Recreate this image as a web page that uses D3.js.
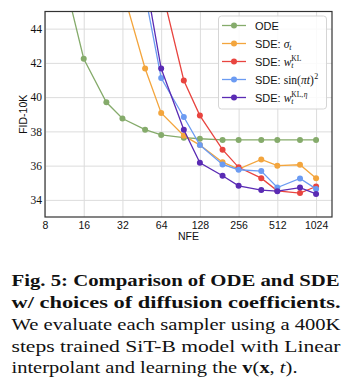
<!DOCTYPE html>
<html>
<head>
<meta charset="utf-8">
<script src="https://cdnjs.cloudflare.com/ajax/libs/d3/7.8.5/d3.min.js"></script>
<style>
  body { margin: 0; background: #fff; }
  svg { display: block; }
</style>
</head>
<body>
<div id="chart"></div>
<script>
// NFE sample points and FID-10K
var nfeODE = [12, 16, 24, 32, 48, 64, 96, 128, 192, 256, 384, 512, 768, 1024];
var fidODE = [46.1, 42.24, 39.7, 38.75, 38.1, 37.79, 37.63, 37.57, 37.5, 37.5, 37.5, 37.5, 37.5, 37.5];

var nfeSigma = [32, 48, 64, 96, 128, 192, 256, 384, 512, 768, 1024];
var fidSigma = [46.3, 41.67, 39.08, 37.75, 37.2, 36.2, 35.8, 36.36, 36.0, 36.05, 35.27];

var nfeKL = [64, 96, 128, 192, 256, 384, 512, 768, 1024];
var fidKL = [46.45, 40.97, 38.92, 36.93, 35.9, 35.27, 34.53, 34.4, 34.78];

var nfeSin = [48, 64, 96, 128, 192, 256, 384, 512, 768, 1024];
var fidSin = [46.0, 41.11, 38.84, 37.2, 36.07, 35.76, 35.68, 34.72, 35.25, 34.64];

var nfeKLeta = [48, 64, 96, 128, 192, 256, 384, 512, 768, 1024];
var fidKLeta = [47.0, 41.67, 38.1, 36.17, 35.41, 34.82, 34.57, 34.51, 34.72, 34.35];

var xTicks = [8, 16, 32, 64, 128, 256, 512, 1024];
var yTicks = [34, 36, 38, 40, 42, 44];

var series = [
  { key: "ode",   x: nfeODE,   y: fidODE,   color: "#85ab6b" },
  { key: "sigma", x: nfeSigma, y: fidSigma, color: "#f3a53d" },
  { key: "kl",    x: nfeKL,    y: fidKL,    color: "#e8443f" },
  { key: "sin",   x: nfeSin,   y: fidSin,   color: "#6b9bf2" },
  { key: "kleta", x: nfeKLeta, y: fidKLeta, color: "#5a2bb4" }
];

var W = 354, H = 389;
var m = { left: 45, top: 11.5, right: 332, bottom: 217 };

var svg = d3.select("#chart").append("svg").attr("width", W).attr("height", H);

var x = d3.scaleLog().base(2).domain([8, 1362]).range([m.left, m.right]);
var y = d3.scaleLinear().domain([33, 45]).range([m.bottom, m.top]);

svg.append("defs").append("clipPath").attr("id", "clip")
  .append("rect").attr("x", m.left).attr("y", m.top)
  .attr("width", m.right - m.left).attr("height", m.bottom - m.top);

// grid
svg.append("g").attr("class", "grid")
  .attr("transform", "translate(0," + m.bottom + ")")
  .call(d3.axisBottom(x).tickValues(xTicks).tickSize(-(m.bottom - m.top)).tickFormat(""))
  .call(function(g) {
    g.select(".domain").remove();
    g.selectAll("line").attr("stroke", "#dcdcdc").attr("stroke-width", 1);
  });
svg.append("g").attr("class", "grid")
  .attr("transform", "translate(" + m.left + ",0)")
  .call(d3.axisLeft(y).tickValues(yTicks).tickSize(-(m.right - m.left)).tickFormat(""))
  .call(function(g) {
    g.select(".domain").remove();
    g.selectAll("line").attr("stroke", "#dcdcdc").attr("stroke-width", 1);
  });

// series
var plot = svg.append("g").attr("clip-path", "url(#clip)");
var line = d3.line().x(function(d) { return x(d[0]); }).y(function(d) { return y(d[1]); });

series.forEach(function(s) {
  var pts = d3.zip(s.x, s.y);
  plot.append("path").datum(pts)
    .attr("d", line)
    .attr("fill", "none")
    .attr("stroke", s.color)
    .attr("stroke-width", 1.3);
  plot.selectAll(".pt-" + s.key).data(pts).enter().append("circle")
    .attr("cx", function(d) { return x(d[0]); })
    .attr("cy", function(d) { return y(d[1]); })
    .attr("r", 3)
    .attr("fill", s.color);
});

// frame
svg.append("rect").attr("x", m.left).attr("y", m.top)
  .attr("width", m.right - m.left).attr("height", m.bottom - m.top)
  .attr("fill", "none").attr("stroke", "#333").attr("stroke-width", 1.2);

// x tick labels (sans)
var xAxis = svg.append("g")
  .attr("transform", "translate(0," + m.bottom + ")")
  .call(d3.axisBottom(x).tickValues(xTicks).tickSize(0).tickPadding(5).tickFormat(d3.format("d")));
xAxis.select(".domain").remove();
xAxis.selectAll("text").attr("font-family", "Liberation Sans, Arial, sans-serif")
  .attr("font-size", 10.5).attr("fill", "#111");

// y tick labels (serif)
var yAxis = svg.append("g")
  .attr("transform", "translate(" + m.left + ",0)")
  .call(d3.axisLeft(y).tickValues(yTicks).tickSize(0).tickPadding(3).tickFormat(d3.format("d")));
yAxis.select(".domain").remove();
yAxis.selectAll("text").attr("font-family", "Liberation Serif, serif")
  .attr("font-size", 11.5).attr("fill", "#111");

svg.append("text").attr("x", (m.left + m.right) / 2).attr("y", 240)
  .attr("text-anchor", "middle")
  .attr("font-family", "Liberation Sans, Arial, sans-serif").attr("font-size", 10.5)
  .attr("fill", "#111").text("NFE");

svg.append("text").attr("transform", "translate(27," + ((m.top + m.bottom) / 2) + ") rotate(-90)")
  .attr("text-anchor", "middle")
  .attr("font-family", "Liberation Sans, Arial, sans-serif").attr("font-size", 10.5)
  .attr("fill", "#111").text("FID-10K");

// legend
var lg = svg.append("g");
lg.append("rect").attr("x", 218.5).attr("y", 16).attr("width", 108).attr("height", 93)
  .attr("rx", 3).attr("fill", "#fff").attr("fill-opacity", 0.85)
  .attr("stroke", "#d5d5d5").attr("stroke-width", 1);

var legY = [25.5, 43.5, 61.5, 79.5, 97.5];
var sans = "Liberation Sans, Arial, sans-serif";
var serif = "Liberation Serif, serif";

function put(txt, xx, yy, fam, size, style) {
  var t = lg.append("text").attr("x", xx).attr("y", yy)
    .attr("font-family", fam).attr("font-size", size).attr("fill", "#111")
    .attr("font-style", style || "normal").text(txt);
  return xx + t.node().getComputedTextLength();
}

series.forEach(function(s, i) {
  var yy = legY[i];
  lg.append("line").attr("x1", 222).attr("x2", 246).attr("y1", yy).attr("y2", yy)
    .attr("stroke", s.color).attr("stroke-width", 1.3);
  lg.append("circle").attr("cx", 234).attr("cy", yy).attr("r", 3).attr("fill", s.color);
  var base = yy + 4;
  var tx = 255;
  if (s.key === "ode") { put("ODE", tx, base, sans, 11); return; }
  tx = put("SDE:", tx, base, sans, 11) + 3;
  if (s.key === "sigma") {
    tx = put("\u03c3", tx, base, serif, 11.5, "italic");
    put("t", tx, base + 2.5, serif, 8, "italic");
  } else if (s.key === "kl" || s.key === "kleta") {
    tx = put("w", tx, base, serif, 11.5, "italic");
    put("t", tx, base + 2.5, serif, 8, "italic");
    var sx = put("KL", tx, base - 5, serif, 7.5);
    if (s.key === "kleta") {
      sx = put(",", sx, base - 5, serif, 7.5);
      put("\u03b7", sx + 0.5, base - 5, serif, 7.5, "italic");
    }
  } else if (s.key === "sin") {
    tx = put("sin(", tx, base, serif, 11.5);
    tx = put("\u03c0t", tx, base, serif, 11.5, "italic");
    tx = put(")", tx, base, serif, 11.5);
    put("2", tx + 0.5, base - 5, serif, 8);
  }
});

// caption
var capLines = [
  { parts: [["Fig. 5: Comparison of ODE and SDE", "bold", "normal"]], y: 286, w: 328 },
  { parts: [["w/ choices of diffusion coefficients.", "bold", "normal"]], y: 308, w: 329 },
  { parts: [["We evaluate each sampler using a 400K", "normal", "normal"]], y: 330, w: 329 },
  { parts: [["steps trained SiT-B model with Linear", "normal", "normal"]], y: 351.5, w: 329 },
  { parts: [["interpolant and learning the ", "normal", "normal"], ["v", "bold", "normal"], ["(", "normal", "normal"],
            ["x", "bold", "normal"], [", ", "normal", "normal"], ["t", "normal", "italic"], [").", "normal", "normal"]], y: 373, w: 286 }
];

capLines.forEach(function(l) {
  var t = svg.append("text").attr("x", 11.5).attr("y", l.y)
    .attr("font-family", serif).attr("font-size", 16).attr("fill", "#111");
  l.parts.forEach(function(p) {
    t.append("tspan").attr("font-weight", p[1]).attr("font-style", p[2]).text(p[0]);
  });
  t.attr("textLength", l.w).attr("lengthAdjust", "spacingAndGlyphs");
});
</script>
</body>
</html>
